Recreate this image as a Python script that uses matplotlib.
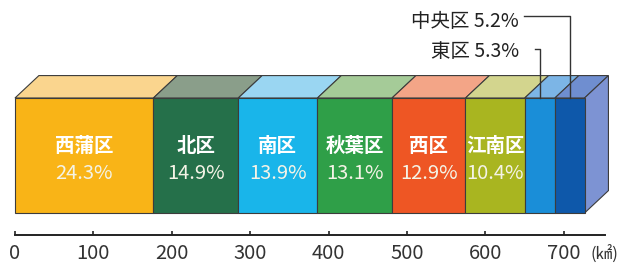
import matplotlib
matplotlib.use("Agg")
import matplotlib.pyplot as plt
from matplotlib.patches import Polygon

plt.rcParams["font.family"] = ["Noto Sans CJK JP", "DejaVu Sans"]

# ---- data ------------------------------------------------------------
TOTAL_AREA = 726.45                      # km2, whole city
wards   = ["西蒲区", "北区", "南区", "秋葉区", "西区", "江南区", "東区", "中央区"]
shares  = [24.3, 14.9, 13.9, 13.1, 12.9, 10.4, 5.3, 5.2]   # % of area
x_ticks = [0, 100, 200, 300, 400, 500, 600, 700]
unit_label = "(㎢)"

# ---- styles ----------------------------------------------------------
front_colors = ["#F9B417", "#25704A", "#19B5EA", "#2F9F48",
                "#EE5624", "#A9B520", "#1A8ED8", "#0E58AA"]
top_colors   = ["#FAD58E", "#8A9E8A", "#9AD6F2", "#A5CB98",
                "#F3A587", "#D3D58E", "#7CB5E6", "#6F8ED0"]
side_color   = "#7D93D3"
edge         = "#3C3C3C"
DX, DY = 30.5, 0.195                      # depth of the 3-D box

fig = plt.figure(figsize=(6.24, 2.64), dpi=100)
ax = fig.add_axes([0, 0, 1, 1])
ax.set_xlim(-19.1, 776.8)
ax.set_ylim(-0.443, 1.852)

widths = [s / 100 * TOTAL_AREA for s in shares]
lefts = [sum(widths[:i]) for i in range(len(widths))]

# front faces
ax.bar(lefts, 1.0, width=widths, align="edge", color=front_colors,
       edgecolor=edge, linewidth=0.8, zorder=2)

# top faces
for x0, w, c in zip(lefts, widths, top_colors):
    ax.add_patch(Polygon([(x0, 1), (x0 + w, 1), (x0 + w + DX, 1 + DY),
                          (x0 + DX, 1 + DY)], closed=True, facecolor=c,
                         edgecolor=edge, linewidth=0.8, zorder=1))

# right side face of the last box
xr = lefts[-1] + widths[-1]
ax.add_patch(Polygon([(xr, 0), (xr + DX, DY), (xr + DX, 1 + DY), (xr, 1)],
                     closed=True, facecolor=side_color, edgecolor=edge,
                     linewidth=0.8, zorder=1))

# labels inside the wide boxes
for name, s, x0, w in zip(wards[:6], shares[:6], lefts, widths):
    cx = x0 + w / 2
    ax.text(cx, 0.575, name, ha="center", va="center", color="white",
            fontsize=14, fontweight="bold", zorder=3)
    ax.text(cx, 0.34, f"{s}%", ha="center", va="center", color="#F4F3E6",
            fontsize=14.5, zorder=3)

# leader labels for the two narrow boxes
leader_y = [1.43, 1.715]
text_y   = [1.40, 1.665]
line_x0  = [663, 649]
for name, s, x0, w, ly, ty, lx in zip(wards[6:], shares[6:], lefts[6:],
                                      widths[6:], leader_y, text_y, line_x0):
    cx = x0 + w / 2
    ax.plot([lx, cx, cx], [ly, ly, 1.0], color="#333333", linewidth=1.0,
            zorder=4)
    ax.text(643, ty, f"{name} {s}%", ha="right", va="center",
            color="#222222", fontsize=14, zorder=4)

# x axis
for side in ("top", "right", "left"):
    ax.spines[side].set_visible(False)
ax.spines["bottom"].set_position(("data", -0.19))
ax.spines["bottom"].set_bounds(0, 752)
ax.spines["bottom"].set_linewidth(1.4)
ax.spines["bottom"].set_color("#222222")
ax.set_xticks(x_ticks)
ax.set_xticklabels([str(t) for t in x_ticks])
ax.tick_params(axis="x", direction="in", length=3, width=1.2,
               pad=6, labelsize=14.5, labelcolor="#333333", color="#222222")
ax.set_yticks([])
ax.text(752, -0.365, unit_label, ha="center", va="center",
        fontsize=12, color="#333333")

fig.savefig("out.png", dpi=100)
